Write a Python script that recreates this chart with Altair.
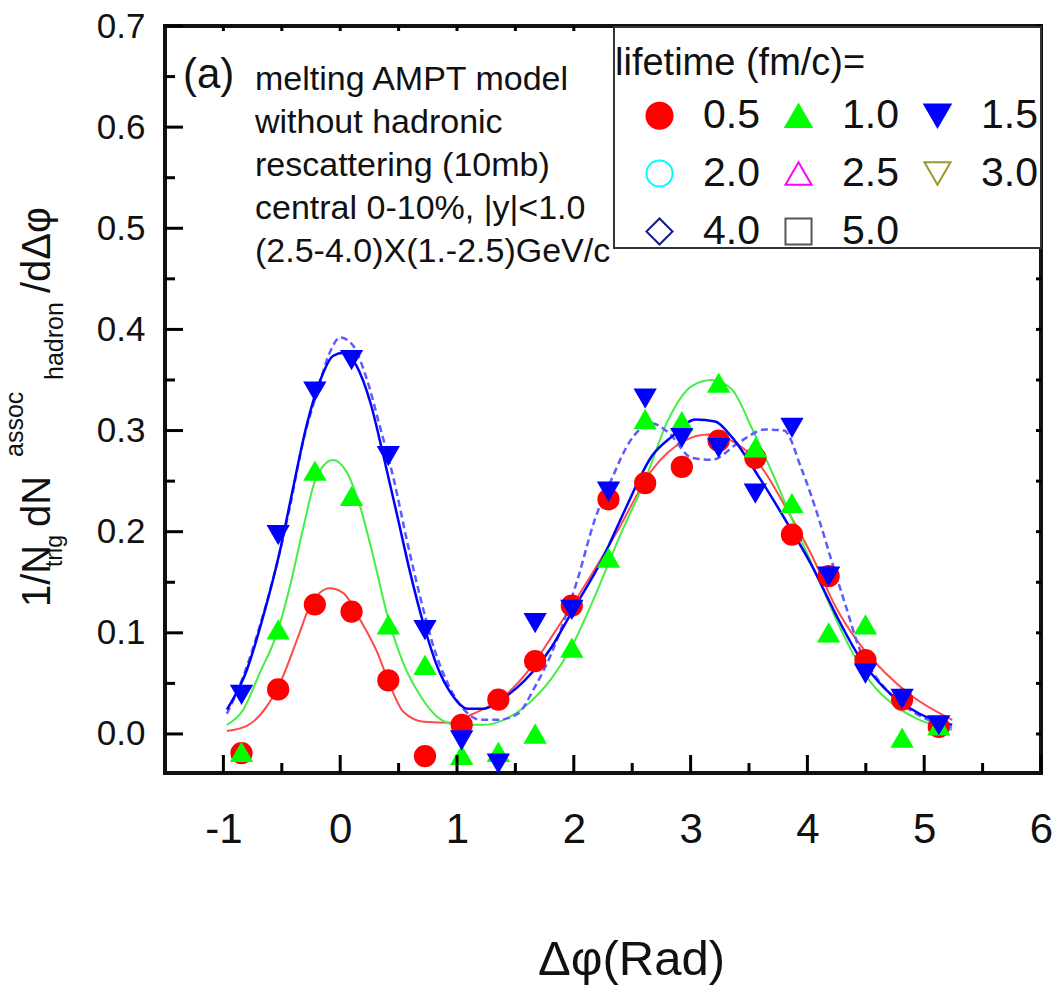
import altair as alt
import pandas as pd

# ---------------- data ----------------
X_BINS = [-0.845, -0.531, -0.217, 0.097, 0.412, 0.726, 1.040, 1.354, 1.669, 1.983,
          2.297, 2.611, 2.925, 3.240, 3.554, 3.868, 4.182, 4.497, 4.811, 5.125]

LIFE_05 = [-0.019, 0.044, 0.128, 0.121, 0.053, -0.022, 0.009, 0.034, 0.072, 0.127,
           0.232, 0.248, 0.264, 0.290, 0.273, 0.197, 0.156, 0.073, 0.034, 0.007]
LIFE_10 = [-0.018, 0.103, 0.260, 0.235, 0.108, 0.068, -0.021, -0.018, 0.000, 0.085,
           0.174, 0.311, 0.309, 0.347, 0.283, 0.228, 0.100, 0.108, -0.004, 0.008]
LIFE_15 = [0.039, 0.197, 0.339, 0.370, 0.275, 0.103, -0.006, -0.029, 0.110, 0.123,
           0.240, 0.332, 0.293, 0.283, 0.238, 0.303, 0.156, 0.060, 0.035, 0.009]

FIT_05_X = [-0.97, -0.80, -0.63, -0.49, -0.37, -0.26, -0.09, 0.03, 0.17, 0.32, 0.43, 0.54,
            0.72, 0.95, 1.12, 1.38, 1.66, 1.81, 2.09, 2.38, 2.67, 2.95, 3.15, 3.38, 3.58,
            3.81, 4.04, 4.24, 4.44, 4.67, 4.90, 5.24]
FIT_05_Y = [0.003, 0.008, 0.027, 0.057, 0.093, 0.126, 0.144, 0.139, 0.113, 0.080, 0.047, 0.022,
            0.012, 0.011, 0.019, 0.035, 0.070, 0.096, 0.146, 0.202, 0.261, 0.290, 0.296, 0.288, 0.268,
            0.225, 0.176, 0.126, 0.090, 0.060, 0.037, 0.014]

FIT_10_X = [-0.97, -0.83, -0.69, -0.54, -0.43, -0.32, -0.20, -0.06, 0.06, 0.17, 0.29, 0.40,
            0.54, 0.69, 0.83, 1.00, 1.23, 1.40, 1.58, 1.81, 1.98, 2.18, 2.38, 2.61, 2.81,
            3.01, 3.18, 3.35, 3.53, 3.70, 3.87, 4.10, 4.30, 4.53, 4.76, 4.96, 5.24]
FIT_10_Y = [0.009, 0.024, 0.060, 0.100, 0.146, 0.202, 0.255, 0.271, 0.258, 0.225, 0.172, 0.119,
            0.070, 0.037, 0.017, 0.009, 0.009, 0.014, 0.027, 0.055, 0.086, 0.136, 0.192, 0.251, 0.311,
            0.344, 0.350, 0.341, 0.301, 0.258, 0.212, 0.152, 0.100, 0.053, 0.027, 0.014, 0.004]

FIT_15_X = [-0.97, -0.80, -0.66, -0.52, -0.40, -0.29, -0.17, -0.06, 0.03, 0.14, 0.26, 0.37,
            0.49, 0.60, 0.72, 0.83, 0.95, 1.09, 1.23, 1.38, 1.58, 1.81, 1.98, 2.24, 2.44,
            2.67, 2.84, 3.04, 3.21, 3.35, 3.58, 3.81, 4.04, 4.24, 4.44, 4.67, 4.96, 5.24]
FIT_15_Y = [0.024, 0.063, 0.116, 0.179, 0.245, 0.304, 0.350, 0.374, 0.377, 0.364, 0.327, 0.275,
            0.215, 0.159, 0.106, 0.067, 0.040, 0.025, 0.025, 0.034, 0.053, 0.086, 0.120, 0.172, 0.222,
            0.275, 0.294, 0.311, 0.309, 0.294, 0.255, 0.212, 0.166, 0.119, 0.077, 0.044, 0.020, 0.009]

FIT_DASH_X = [-0.97, -0.83, -0.69, -0.54, -0.43, -0.32, -0.20, -0.09, 0.00, 0.11, 0.23, 0.34,
              0.46, 0.57, 0.69, 0.80, 0.92, 1.06, 1.20, 1.35, 1.52, 1.66, 1.81, 2.03, 2.18,
              2.32, 2.49, 2.67, 2.81, 3.01, 3.18, 3.41, 3.64, 3.80, 3.95, 4.10, 4.21, 4.33,
              4.44, 4.61, 4.84, 5.10, 5.24]
FIT_DASH_Y = [0.020, 0.057, 0.106, 0.169, 0.225, 0.288, 0.337, 0.377, 0.392, 0.384, 0.350, 0.304,
              0.251, 0.192, 0.133, 0.086, 0.050, 0.024, 0.014, 0.014, 0.020, 0.045, 0.080, 0.152, 0.212,
              0.251, 0.291, 0.307, 0.298, 0.273, 0.271, 0.288, 0.301, 0.300, 0.262, 0.212, 0.170, 0.126,
              0.086, 0.053, 0.027, 0.011, 0.006]

LIFETIMES = ["0.5", "1.0", "1.5", "2.0", "2.5", "3.0", "4.0", "5.0"]
SHAPES = ["circle", "triangle-up", "triangle-down", "circle", "triangle-up",
          "triangle-down", "diamond", "square"]
STROKES = ["#ff0000", "#00ff00", "#0000ff", "#00ffff", "#ff00ff", "#999933", "#1a1a8c", "#555555"]
FILLS = ["#ff0000", "#00ff00", "#0000ff", "white", "white", "white", "white", "white"]

X_TICKS = [-1, 0, 1, 2, 3, 4, 5, 6]
X_MINOR = [-0.5, 0.5, 1.5, 2.5, 3.5, 4.5, 5.5]
Y_TICKS = [0.0, 0.1, 0.2, 0.3, 0.4, 0.5, 0.6, 0.7]
Y_MINOR = [0.05, 0.15, 0.25, 0.35, 0.45, 0.55, 0.65]

NOTE_LINES = ["melting AMPT model", "without hadronic", "rescattering (10mb)",
              "central 0-10%, |y|<1.0", "(2.5-4.0)X(1.-2.5)GeV/c"]

# ---------------- build tables ----------------
pts = pd.concat([
    pd.DataFrame({"x": X_BINS, "y": LIFE_05, "lifetime": "0.5"}),
    pd.DataFrame({"x": X_BINS, "y": LIFE_10, "lifetime": "1.0"}),
    pd.DataFrame({"x": X_BINS, "y": LIFE_15, "lifetime": "1.5"}),
], ignore_index=True)

W, H = 876, 747
FONT = "Liberation Sans, Arial, sans-serif"

xs = alt.Scale(domain=[-1.5, 6.0], nice=False, zero=False)
ys = alt.Scale(domain=[-0.0386, 0.7], nice=False, zero=False)

x_axis = alt.Axis(values=X_TICKS, ticks=False, domain=False, grid=False,
                  labelFont=FONT, labelFontSize=42, labelColor="#111",
                  labelPadding=36, labelFlush=False, labelOverlap=False,
                  labelExpr="datum.value + ''",
                  title="Δφ(Rad)", titleFont=FONT, titleFontSize=49,
                  titleFontWeight="normal", titleColor="#111",
                  titleX=466, titleY=201, titleBaseline="alphabetic", titleAlign="center")
y_axis = alt.Axis(values=Y_TICKS, ticks=False, domain=False, grid=False, format=".1f",
                  labelFont=FONT, labelFontSize=35, labelColor="#111",
                  labelPadding=20, labelOverlap=False, title=None)

legend = alt.Legend(title=None, orient="none", direction="horizontal",
                    legendX=474, legendY=69, columns=3,
                    symbolSize=680, symbolStrokeWidth=2, symbolOffset=0,
                    labelFont=FONT, labelFontSize=41, labelColor="#111",
                    labelOffset=23, columnPadding=18, rowPadding=16, padding=0,
                    zindex=1)


def X(field):
    return alt.X(field, scale=xs, axis=x_axis)


def Y(field):
    return alt.Y(field, scale=ys, axis=y_axis)


def curve(xv, yv, color, width, dash=None):
    df = pd.DataFrame({"x": xv, "y": yv})
    kw = dict(color=color, strokeWidth=width, interpolate="monotone")
    if dash:
        kw["strokeDash"] = dash
    return alt.Chart(df).mark_line(**kw).encode(x=X("x:Q"), y=Y("y:Q"))


lines = [
    curve(FIT_05_X, FIT_05_Y, "#ff4a4a", 2),
    curve(FIT_10_X, FIT_10_Y, "#44ee44", 2),
    curve(FIT_DASH_X, FIT_DASH_Y, "#5c5cff", 2.5, [7, 4]),
    curve(FIT_15_X, FIT_15_Y, "#0000ff", 2.5),
]

points = alt.Chart(pts).mark_point(size=430, strokeWidth=1.5, opacity=1, fillOpacity=1,
                                   clip=True).encode(
    x=X("x:Q"),
    y=Y("y:Q"),
    shape=alt.Shape("lifetime:N", scale=alt.Scale(domain=LIFETIMES, range=SHAPES), legend=legend),
    stroke=alt.Stroke("lifetime:N", scale=alt.Scale(domain=LIFETIMES, range=STROKES), legend=legend),
    fill=alt.Fill("lifetime:N", scale=alt.Scale(domain=LIFETIMES, range=FILLS), legend=legend),
    order=alt.Order("lifetime:N"),
)


def xticks(vals, y1, y2):
    return alt.Chart(pd.DataFrame({"x": vals})).mark_rule(color="#000", strokeWidth=3).encode(
        x=X("x:Q"), y=alt.value(y1), y2=alt.value(y2))


def yticks(vals, x1, x2):
    return alt.Chart(pd.DataFrame({"y": vals})).mark_rule(color="#000", strokeWidth=3).encode(
        y=Y("y:Q"), x=alt.value(x1), x2=alt.value(x2))


ticks = [
    xticks(X_TICKS, H, H - 18), xticks(X_MINOR, H, H - 10),
    xticks(X_TICKS + X_MINOR, 0, 5),
    yticks(Y_TICKS, 0, 18), yticks(Y_MINOR, 0, 10),
    yticks(Y_TICKS + Y_MINOR, W, W - 5),
]

one = pd.DataFrame({"k": [0]})

box = alt.Chart(one).mark_rect(fill="white", stroke="#333", strokeWidth=2).encode(
    x=alt.value(449), x2=alt.value(W), y=alt.value(1), y2=alt.value(222))


def label(text, x, y, size, angle=0, color="#111"):
    return alt.Chart(one).mark_text(text=text, align="left", baseline="alphabetic",
                                    font=FONT, fontSize=size, angle=angle, color=color).encode(
        x=alt.value(x), y=alt.value(y))


texts = [label("lifetime (fm/c)=", 450, 49, 38), label("(a)", 18, 62, 42)]
for i, t in enumerate(NOTE_LINES):
    texts.append(label(t, 90, 64 + 43 * i, 34))

# y-axis title assembled from pieces (sub/superscripts)
texts += [
    label("1/N", -115, 581, 40, angle=270),
    label("trig", -103, 541, 23, angle=270),
    label("dN", -115, 501, 40, angle=270),
    label("assoc", -142, 431, 25, angle=270),
    label("hadron", -102, 354, 25, angle=270),
    label("/dΔφ", -115, 267, 40, angle=270),
]

chart = alt.layer(*lines, points, *ticks, box, *texts).properties(
    width=W, height=H,
    padding={"left": 165, "top": 26, "right": 14, "bottom": 217},
    autosize=alt.AutoSizeParams(type="none"),
).configure_view(stroke="#111", strokeWidth=4)

chart.save("out.html", embed_options={"renderer": "svg", "actions": False})
